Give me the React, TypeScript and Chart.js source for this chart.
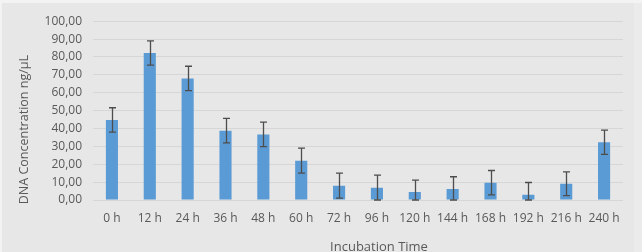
import React, { useEffect, useRef } from "react";
import { Chart, registerables } from "chart.js";

Chart.register(...registerables);

const categories = ["0 h", "12 h", "24 h", "36 h", "48 h", "60 h", "72 h", "96 h", "120 h", "144 h", "168 h", "192 h", "216 h", "240 h"];
const concentration = [44.8, 82.2, 68.0, 38.8, 36.7, 22.0, 8.0, 6.9, 4.5, 6.2, 9.7, 3.0, 9.1, 32.3];
const errors = [6.8, 6.8, 6.8, 6.9, 6.9, 7.0, 7.0, 7.0, 6.6, 6.8, 6.8, 6.8, 6.6, 6.8];
const yTicks = [0, 10, 20, 30, 40, 50, 60, 70, 80, 90, 100];

const FONT = "'Open Sans', 'Liberation Sans', sans-serif";
const TEXT = "#595959";

const errorBars = {
  id: "errorBars",
  afterDatasetsDraw(chart: any) {
    const meta = chart.getDatasetMeta(0);
    const y = chart.scales.y;
    const ctx = chart.ctx;
    ctx.save();
    ctx.strokeStyle = "#4d4d4d";
    ctx.lineWidth = 1.3;
    meta.data.forEach((bar: any, i: number) => {
      const v = concentration[i];
      const e = errors[i];
      const top = y.getPixelForValue(v + e);
      const bot = y.getPixelForValue(Math.max(0, v - e));
      const x = Math.round(bar.x) + 0.5;
      ctx.beginPath();
      ctx.moveTo(x, top);
      ctx.lineTo(x, bot);
      ctx.moveTo(x - 3.5, top);
      ctx.lineTo(x + 3.5, top);
      ctx.moveTo(x - 3.5, bot);
      ctx.lineTo(x + 3.5, bot);
      ctx.stroke();
    });
    ctx.restore();
  },
};

const axisTitles = {
  id: "axisTitles",
  afterDraw(chart: any) {
    const ctx = chart.ctx;
    const area = chart.chartArea;
    ctx.save();
    ctx.fillStyle = TEXT;
    ctx.textAlign = "center";
    ctx.textBaseline = "middle";
    ctx.font = `13px ${FONT}`;
    ctx.fillText("Incubation Time", (area.left + area.right) / 2 + 21, area.bottom + 47);
    ctx.font = `12.5px ${FONT}`;
    ctx.translate(22.5, (area.top + area.bottom) / 2 + 19);
    ctx.rotate(-Math.PI / 2);
    ctx.fillText("DNA Concentration ng/µL", 0, 0);
    ctx.restore();
  },
};

export default function App() {
  const ref = useRef<HTMLCanvasElement>(null);

  useEffect(() => {
    if (!ref.current) return;
    const chart = new Chart(ref.current, {
      type: "bar",
      data: {
        labels: categories,
        datasets: [
          {
            data: concentration,
            backgroundColor: "#5b9bd5",
            barPercentage: 0.64,
            categoryPercentage: 0.5,
          },
        ],
      },
      options: {
        animation: false,
        responsive: false,
        layout: { padding: { top: 16, right: 11, left: 0, bottom: 0 } },
        plugins: { legend: { display: false }, tooltip: { enabled: false } },
        scales: {
          x: {
            grid: { display: false, drawTicks: false },
            border: { display: false },
            ticks: { color: TEXT, font: { family: FONT, size: 12 }, padding: 11, maxRotation: 0, autoSkip: false },
            afterFit: (s: any) => {
              s.height = 52;
            },
          },
          y: {
            min: 0,
            max: 100,
            afterBuildTicks: (s: any) => {
              s.ticks = yTicks.map((v) => ({ value: v }));
            },
            grid: { color: "#d6d6d6", lineWidth: 1, drawTicks: false },
            border: { display: false },
            ticks: {
              color: TEXT,
              font: { family: FONT, size: 12 },
              padding: 11,
              callback: (v: any) => Number(v).toFixed(2).replace(".", ","),
            },
            afterFit: (s: any) => {
              s.width = 91;
            },
          },
        },
      },
      plugins: [errorBars, axisTitles],
    });
    return () => chart.destroy();
  }, []);

  return (
    <div style={{ position: "absolute", left: 0, top: 0, width: 642, height: 252, background: "#f3f3f3", overflow: "hidden" }}>
      <div style={{ position: "absolute", left: 2, top: 3, width: 632, height: 249, background: "#e7e7e7" }}>
        <canvas ref={ref} width={632} height={249} style={{ display: "block" }} />
      </div>
      <div style={{ position: "absolute", left: 634, top: 3, width: 8, height: 249, background: "#ebebeb" }} />
    </div>
  );
}
